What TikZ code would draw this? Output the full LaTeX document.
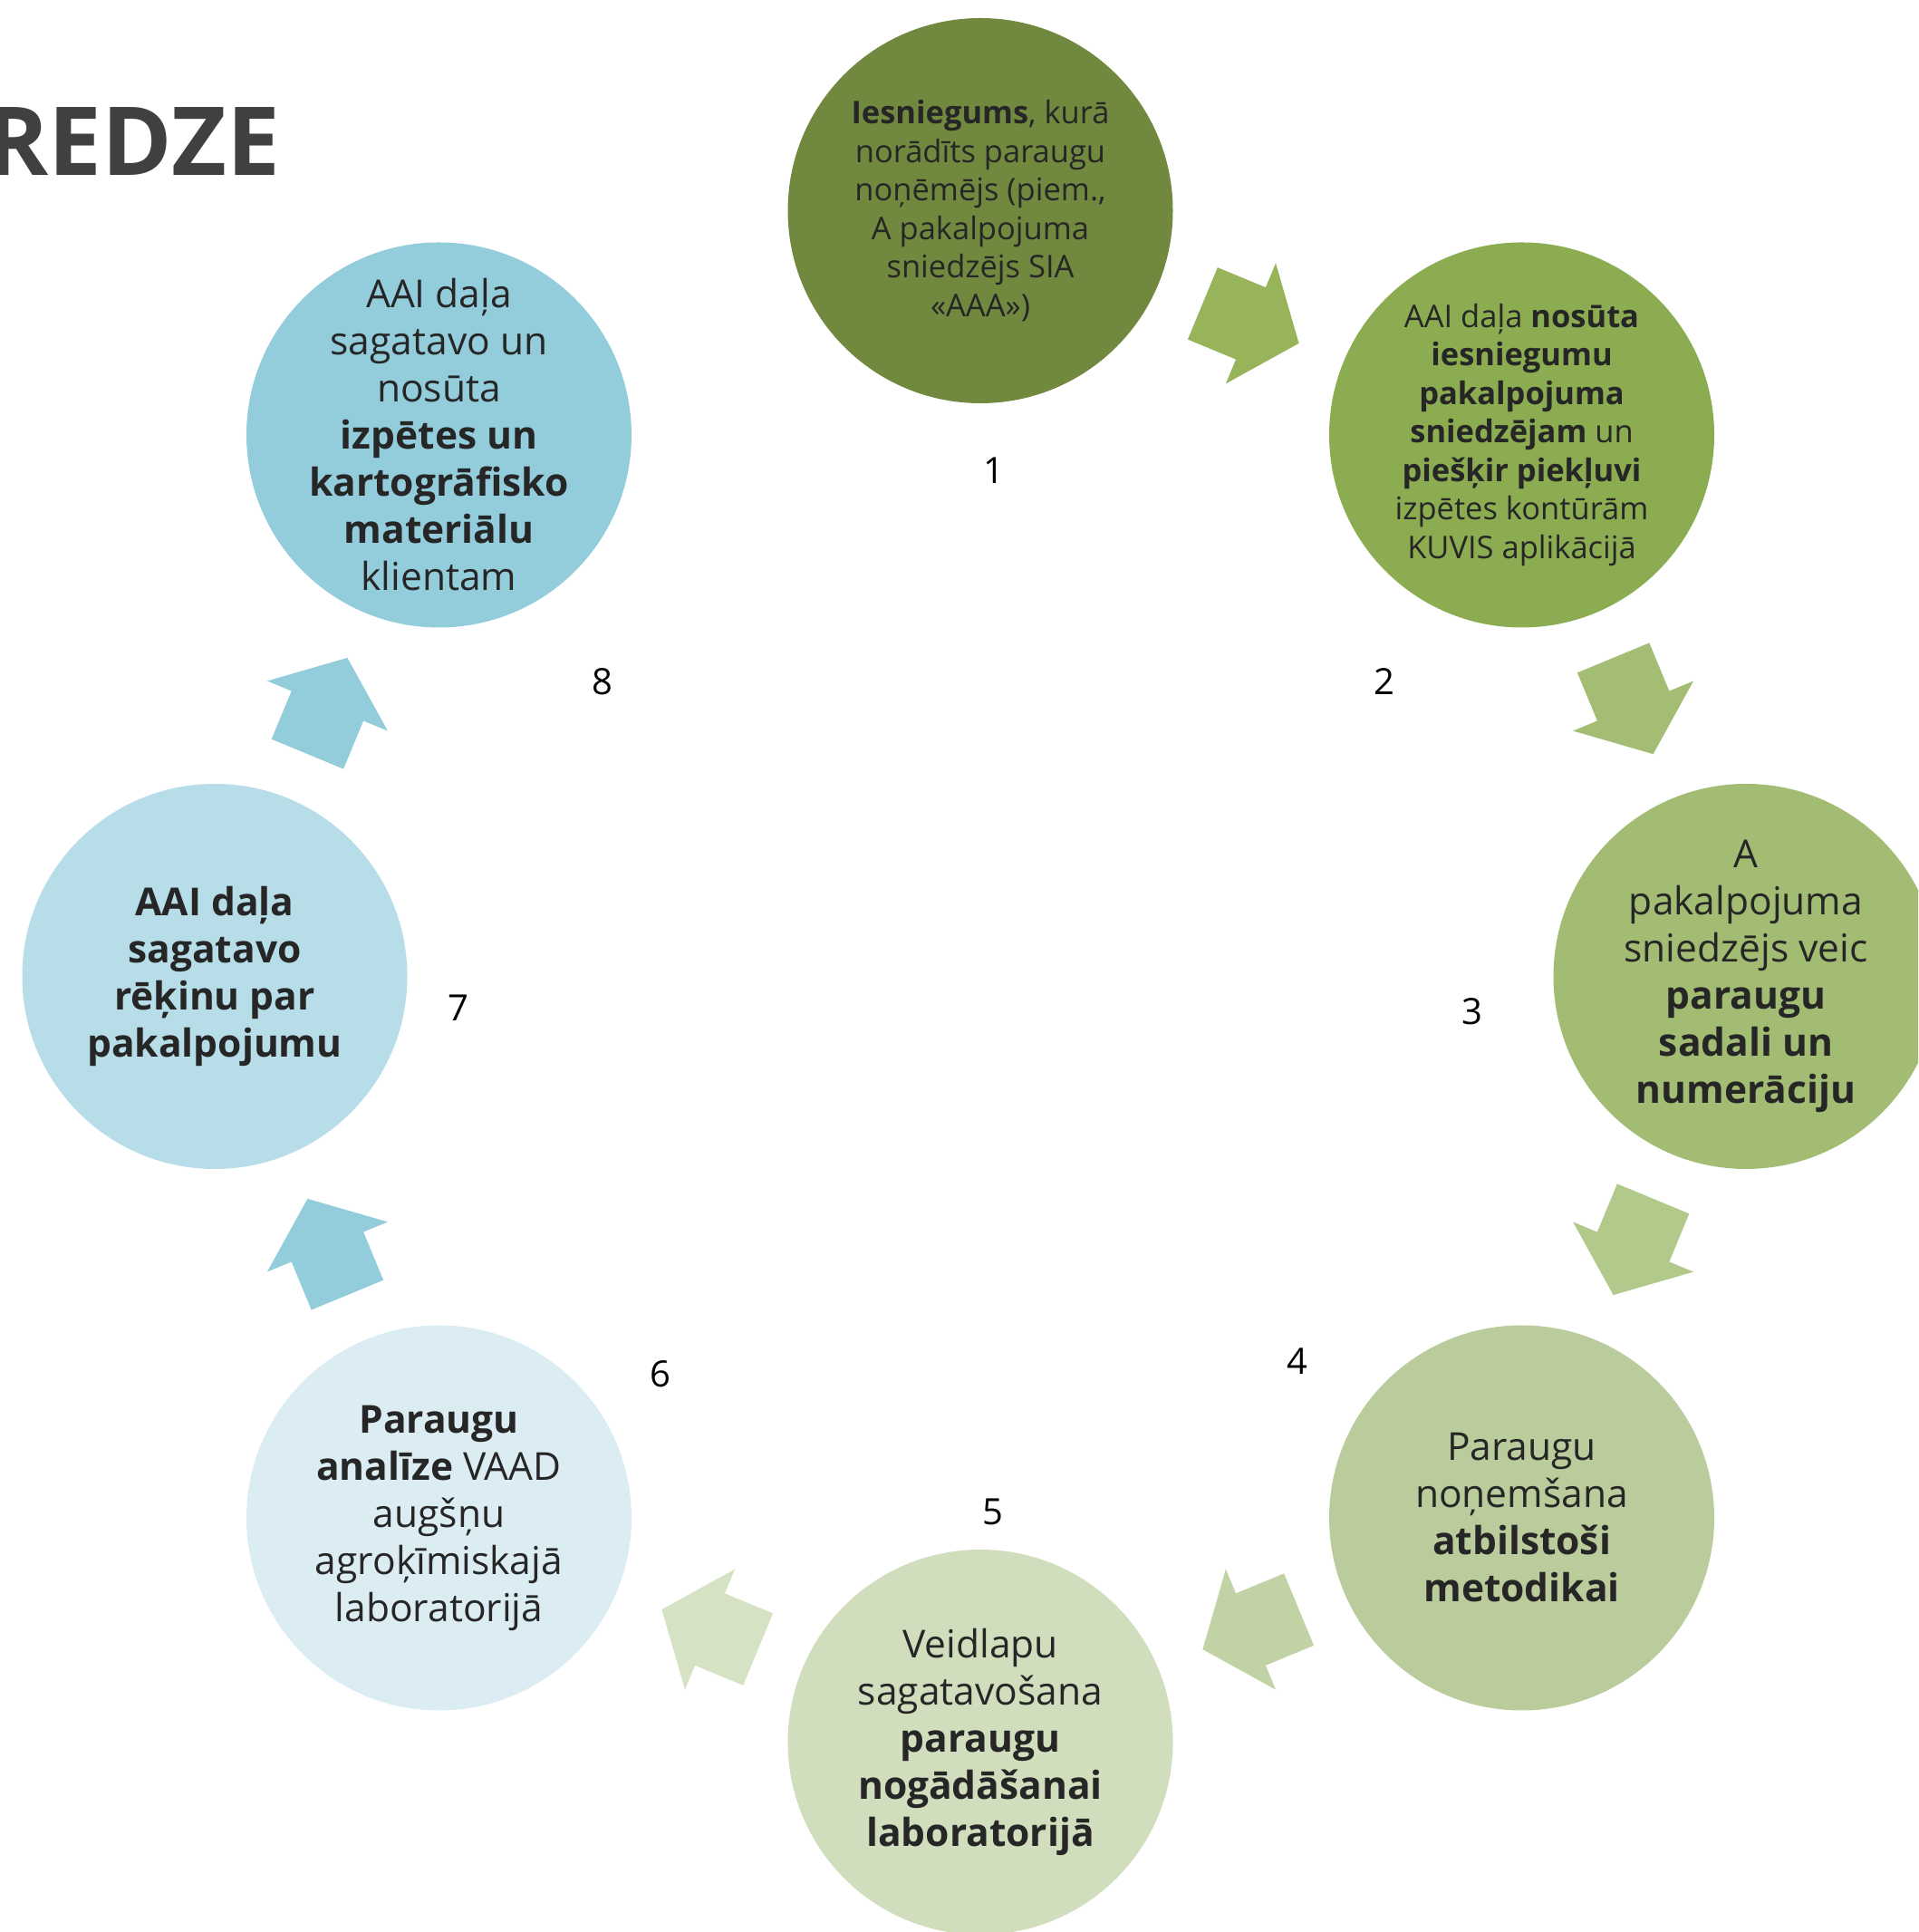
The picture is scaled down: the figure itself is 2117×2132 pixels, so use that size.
\documentclass[tikz,border=0pt]{standalone}
\usepackage{fontspec}
\usetikzlibrary{calc}
\setmainfont{Open Sans}
\definecolor{txt}{HTML}{262626}
\definecolor{titlegray}{HTML}{404040}
\definecolor{cA}{HTML}{71893F}
\definecolor{cB}{HTML}{8BAC50}
\definecolor{cC}{HTML}{A2BD73}
\definecolor{cD}{HTML}{BACC9B}
\definecolor{cE}{HTML}{D1DEBD}
\definecolor{cF}{HTML}{DBEDF3}
\definecolor{cG}{HTML}{B6DDE8}
\definecolor{cH}{HTML}{93CDDC}
\definecolor{aA}{HTML}{98B45B}
\definecolor{aB}{HTML}{A3BE74}
\definecolor{aC}{HTML}{B2C98C}
\definecolor{aD}{HTML}{C1D3A5}
\definecolor{aE}{HTML}{D6E2C4}
\definecolor{aF}{HTML}{93CDDC}
\definecolor{aG}{HTML}{93CDDC}
\tikzset{
  stepcircle/.style={circle, minimum size=425pt, inner sep=0pt},
  steptext/.style={inner sep=0pt, align=center, text=txt},
  smalltxt/.style={font=\fontsize{34.5}{42.5}\selectfont},
  bigtxt/.style={font=\fontsize{42.5}{52}\selectfont},
  numlabel/.style={font=\fontsize{40}{48}\selectfont, text=black},
}
\newcommand\cyclearrow[3]{%
  \fill[#2, shift={(O)}, rotate=#1] (737,57.5) -- (823,57.5) -- (823,0) -- (852,0)
    -- (780,-57.5) coordinate (#3) -- (708,0) -- (737,0) -- cycle;}
\begin{document}
\begin{tikzpicture}[x=1pt,y=1pt]
\useasboundingbox (0,0) rectangle (2117,2132);
\clip (0,0) rectangle (2117,2132);
\coordinate (O) at (1082,1054.5);

\node[stepcircle, fill=cA] (c1) at ($(O)+(90:845pt)$) {};
\node[stepcircle, fill=cB] (c2) at ($(O)+(45:845pt)$) {};
\node[stepcircle, fill=cC] (c3) at ($(O)+(0:845pt)$) {};
\node[stepcircle, fill=cD] (c4) at ($(O)+(-45:845pt)$) {};
\node[stepcircle, fill=cE] (c5) at ($(O)+(-90:845pt)$) {};
\node[stepcircle, fill=cF] (c6) at ($(O)+(-135:845pt)$) {};
\node[stepcircle, fill=cG] (c7) at ($(O)+(180:845pt)$) {};
\node[stepcircle, fill=cH] (c8) at ($(O)+(135:845pt)$) {};

\node[steptext, smalltxt] (t1) at (c1) {\textbf{Iesniegums}, kurā\\norādīts paraugu\\noņēmējs (piem.,\\A pakalpojuma\\sniedzējs SIA\\«AAA»)};
\node[steptext, smalltxt] (t2) at (c2) {AAI daļa \textbf{nosūta}\\\textbf{iesniegumu}\\\textbf{pakalpojuma}\\\textbf{sniedzējam} un\\\textbf{piešķir piekļuvi}\\izpētes kontūrām\\KUVIS aplikācijā};
\node[steptext, bigtxt] (t3) at (c3) {A\\pakalpojuma\\sniedzējs veic\\\textbf{paraugu}\\\textbf{sadali un}\\\textbf{numerāciju}};
\node[steptext, bigtxt] (t4) at (c4) {Paraugu\\noņemšana\\\textbf{atbilstoši}\\\textbf{metodikai}};
\node[steptext, bigtxt] (t5) at (c5) {Veidlapu\\sagatavošana\\\textbf{paraugu}\\\textbf{nogādāšanai}\\\textbf{laboratorijā}};
\node[steptext, bigtxt] (t6) at (c6) {\textbf{Paraugu}\\\textbf{analīze} VAAD\\augšņu\\agroķīmiskajā\\laboratorijā};
\node[steptext, bigtxt] (t7) at (c7) {\textbf{AAI daļa}\\\textbf{sagatavo}\\\textbf{rēķinu par}\\\textbf{pakalpojumu}};
\node[steptext, bigtxt] (t8) at (c8) {AAI daļa\\sagatavo un\\nosūta\\\textbf{izpētes un}\\\textbf{kartogrāfisko}\\\textbf{materiālu}\\klientam};

\cyclearrow{67.5}{aA}{t12}
\cyclearrow{22.5}{aB}{t23}
\cyclearrow{-22.5}{aC}{t34}
\cyclearrow{-67.5}{aD}{t45}
\cyclearrow{-112.5}{aE}{t56}
\cyclearrow{-157.5}{aF}{t67}
\cyclearrow{-202.5}{aG}{t78}

\node[numlabel] (n1) at (1097,1613) {1};
\node[numlabel] (n2) at (1528,1380) {2};
\node[numlabel] (n3) at (1625,1016) {3};
\node[numlabel] (n4) at (1432,630) {4};
\node[numlabel] (n5) at (1096,464) {5};
\node[numlabel] (n6) at (729,616) {6};
\node[numlabel] (n7) at (506,1020) {7};
\node[numlabel] (n8) at (665,1380) {8};

\node[anchor=base east, inner sep=0pt, text=titlegray, font=\fontsize{105}{120}\selectfont\bfseries] (title) at (309,1938) {REDZE};
\end{tikzpicture}
\end{document}
